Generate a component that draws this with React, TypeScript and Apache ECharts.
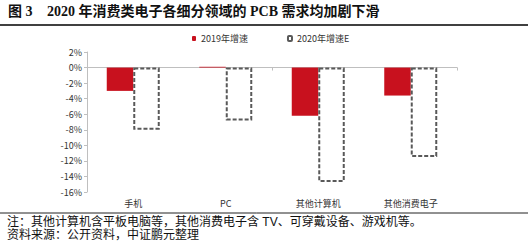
import React, { useEffect, useRef } from "react";
import * as echarts from "echarts";

const categories = ["手机", "PC", "其他计算机", "其他消费电子"];
const growth2019 = [-3.0, 0.1, -6.2, -3.6];
const growth2020E = [-8.0, -6.8, -14.7, -11.5];
const seriesNames = ["2019年增速", "2020年增速E"];
const yTicks = { min: -16, max: 2, interval: 2 };
const titleLabel = "图 3";
const titleText = "2020 年消费类电子各细分领域的 PCB 需求均加剧下滑";
const noteLines = [
  "注：其他计算机含平板电脑等，其他消费电子含 TV、可穿戴设备、游戏机等。",
  "资料来源：公开资料，中证鹏元整理",
];

const cjkSans = '"Noto Sans CJK SC", "Noto Sans", sans-serif';
const noteFont = '"Liberation Sans", "Noto Sans CJK SC", sans-serif';
const titleFont = '"Liberation Serif", "Noto Sans CJK SC", serif';

export default function App() {
  const ref = useRef<HTMLDivElement>(null);
  useEffect(() => {
    if (!ref.current) return;
    const chart = echarts.init(ref.current, undefined, { renderer: "svg" });
    chart.setOption({
      animation: false,
      backgroundColor: "#fff",
      textStyle: { fontFamily: cjkSans },
      legend: {
        left: 187,
        top: 29,
        itemWidth: 4,
        itemHeight: 5,
        itemGap: 39,
        textStyle: { fontSize: 9, color: "#333", fontFamily: cjkSans },
        data: seriesNames,
      },
      grid: { left: 87, right: 71, top: 52, bottom: 54, containLabel: false },
      xAxis: [
        {
          type: "category",
          data: categories,
          position: "bottom",
          axisLine: { show: false, onZero: false },
          axisTick: { show: false },
          axisLabel: { fontSize: 9, color: "#333", margin: 7 },
        },
        {
          type: "category",
          data: categories,
          position: "top",
          axisLine: { show: true, onZero: true, lineStyle: { color: "#bfbfbf", width: 1 } },
          axisTick: { show: true, inside: true, length: 3, lineStyle: { color: "#bfbfbf" } },
          axisLabel: { show: false },
        },
      ],
      yAxis: {
        type: "value",
        min: yTicks.min,
        max: yTicks.max,
        interval: yTicks.interval,
        axisLine: { show: true, lineStyle: { color: "#bfbfbf" } },
        axisTick: { show: true, length: 3, lineStyle: { color: "#bfbfbf" } },
        splitLine: { show: false },
        axisLabel: { fontSize: 9, color: "#333", margin: 5, formatter: "{value}%" },
      },
      series: [
        {
          name: seriesNames[0],
          type: "bar",
          xAxisIndex: 0,
          data: growth2019,
          barWidth: 26.5,
          barGap: "0%",
          itemStyle: { color: "#C8111E" },
        },
        {
          name: seriesNames[1],
          type: "bar",
          xAxisIndex: 0,
          data: growth2020E,
          barWidth: 26.5,
          barGap: "0%",
          itemStyle: {
            color: "#ffffff",
            borderColor: "#595959",
            borderWidth: 2,
            borderType: [4, 2],
          },
        },
      ],
      graphic: [
        {
          type: "text",
          left: 8,
          top: 4,
          style: { text: titleLabel, font: `bold 14px ${titleFont}`, fill: "#111" },
        },
        {
          type: "text",
          left: 47,
          top: 4,
          style: { text: titleText, font: `bold 14px ${titleFont}`, fill: "#111" },
        },
        {
          type: "line",
          shape: { x1: 0, y1: 25, x2: 528, y2: 25 },
          style: { stroke: "#000", lineWidth: 1.3 },
        },
        {
          type: "line",
          shape: { x1: 0, y1: 213, x2: 528, y2: 213 },
          style: { stroke: "#222", lineWidth: 1 },
        },
        {
          type: "text",
          x: 7,
          y: 221.5,
          style: {
            text: noteLines[0],
            font: `12px ${noteFont}`,
            fill: "#111",
            verticalAlign: "middle",
          },
        },
        {
          type: "text",
          x: 7,
          y: 235,
          style: {
            text: noteLines[1],
            font: `12px ${noteFont}`,
            fill: "#111",
            verticalAlign: "middle",
          },
        },
      ],
    });
    return () => chart.dispose();
  }, []);
  return (
    <div
      ref={ref}
      style={{ position: "fixed", left: 0, top: 0, width: 528, height: 246 }}
    />
  );
}
